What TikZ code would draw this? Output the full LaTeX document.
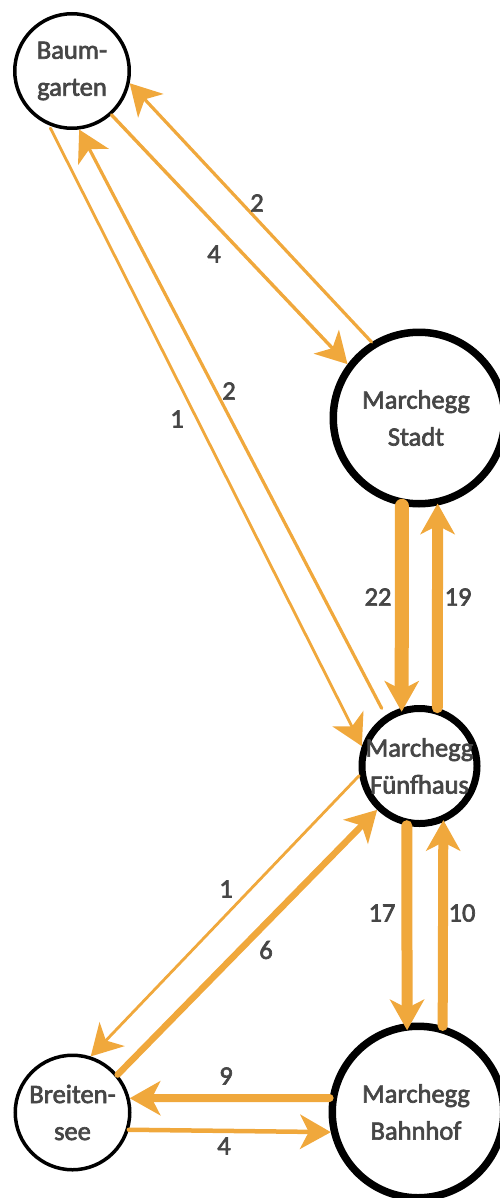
\documentclass[tikz,border=0pt]{standalone}
\usepackage{fontspec}
\setmainfont{Carlito}
\newfontfamily\semifont[FakeBold=2.5]{Carlito}
\usetikzlibrary{arrows.meta}
\definecolor{flowc}{RGB}{240,168,60}
\definecolor{textgray}{RGB}{70,70,70}
\begin{document}
\begin{tikzpicture}[x=1pt,y=-1pt,
  smallstn/.style={circle, draw=black, line width=3.5pt, minimum size=114.5pt, inner sep=0pt},
  bigstn/.style={circle, draw=black, line width=7.5pt, minimum size=171.5pt, inner sep=0pt},
  midstn/.style={circle, draw=black, line width=7pt, minimum size=115pt, inner sep=0pt},
  txt/.style={text=textgray, font=\semifont\fontsize{26.5}{37}\selectfont, align=center, inner sep=0pt},
  lbl/.style={text=textgray, font=\semifont\fontsize{26.5}{37}\selectfont, inner sep=0pt},
  flow/.style={draw=flowc, line cap=round, -{Stealth[length=31pt,width=35pt,inset=9pt,line width=0pt]}}
]
\useasboundingbox (0,0) rectangle (499,1198);

% stations
\node[smallstn] (bg) at (72,71) {};
\node[bigstn] (st) at (419,418) {};
\node[midstn] (fh) at (419.5,766) {};
\node[bigstn] (bh) at (418,1112) {};
\node[smallstn] (br) at (72.5,1112.5) {};

% flows
\draw[flow, line width=3.4pt] (bg.-48.4) -- (st.143.4);
\draw[flow, line width=3.2pt] (st.122.4) -- (bg.-12);
\draw[flow, line width=2.8pt, shorten <=3pt] (bg.-113.7) -- (fh.161.7);
\draw[flow, line width=3.2pt, shorten <=8pt] (fh.124.3) -- (bg.-83.8);

\draw[flow, line width=14pt, shorten >=-4pt] (st.-101.7) -- (fh.107.6);
\draw[flow, line width=11pt, shorten >=-2pt] (fh.73.3) -- (st.-78.3);
\draw[flow, line width=11pt, shorten >=-7pt] (fh.-102.8) -- (bh.97.75);
\draw[flow, line width=10pt, shorten >=-2pt] (bh.74) -- (fh.-67.8);

\draw[flow, line width=2.8pt] (fh.-171.1) -- (br.72.3);
\draw[flow, line width=6.5pt] (br.40.3) -- (fh.-134.7);
\draw[flow, line width=8pt] (bh.171) -- (br.14);
\draw[flow, line width=4.5pt] (br.-17.8) -- (bh.-167.9);

% station names
\node[txt] (bgT) at (bg) {Baum-\\garten};
\node[txt] (stT) at (416,418) {Marchegg\\Stadt};
\node[txt] (fhT) at (fh) {Marchegg\\Fünfhaus};
\node[txt] (bhT) at (416,1112) {Marchegg\\Bahnhof};
\node[txt] (brT) at (br) {Breiten-\\see};

% flow labels
\node[lbl] (l1) at (257,203) {2};
\node[lbl] (l2) at (214,254) {4};
\node[lbl] (l3) at (229,391) {2};
\node[lbl] (l4) at (177,419) {1};
\node[lbl] (l5) at (378,597) {22};
\node[lbl] (l6) at (458,597) {19};
\node[lbl] (l7) at (226,889) {1};
\node[lbl] (l8) at (266,950) {6};
\node[lbl] (l9) at (382,913) {17};
\node[lbl] (l10) at (462,913) {10};
\node[lbl] (l11) at (226,1076) {9};
\node[lbl] (l12) at (224,1146) {4};
\end{tikzpicture}
\end{document}
